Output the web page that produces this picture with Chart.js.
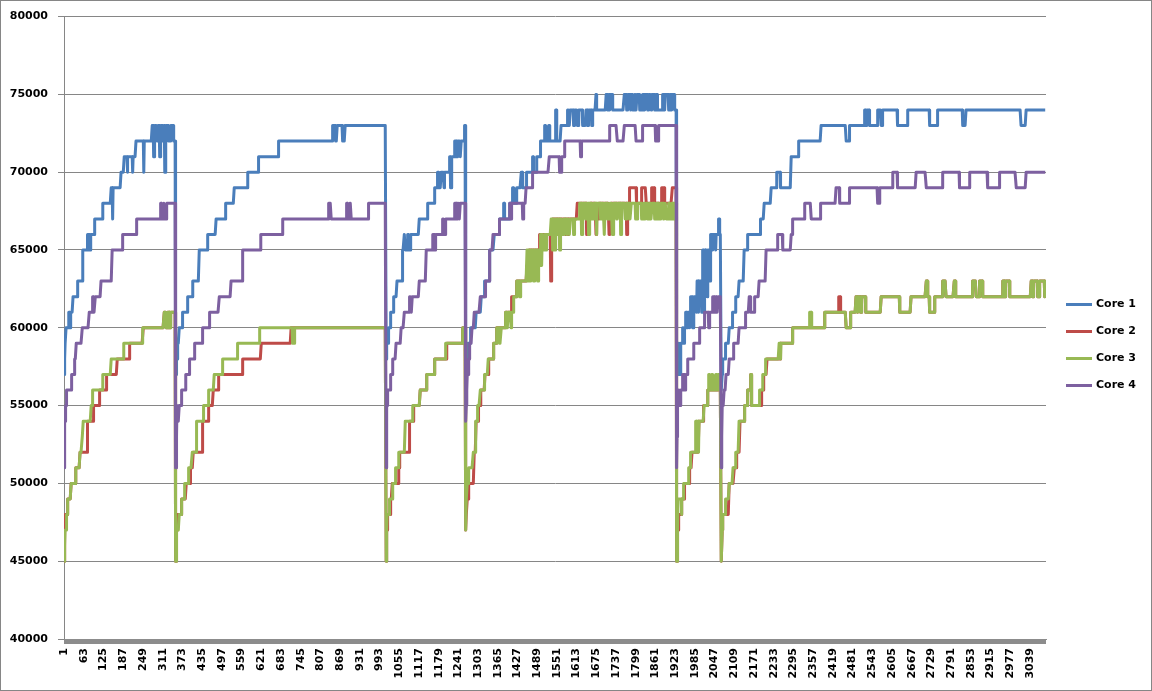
<!DOCTYPE html>
<html>
<head>
<meta charset="utf-8">
<title>Core 1-4</title>
<script src="https://cdn.jsdelivr.net/npm/chart.js@4.4.1/dist/chart.umd.min.js"></script>
<style>
  html, body { margin: 0; padding: 0; background: #fff; }
  #wrap { width: 1152px; height: 691px; position: relative; }
</style>
</head>
<body>
<div id="wrap"><canvas id="coreChart"></canvas></div>
<script>
// series names and colours (Excel 2007 palette)
const seriesNames = ['Core 1', 'Core 2', 'Core 3', 'Core 4'];
const seriesColors = ['#4a7ebb', '#be4b48', '#98b954', '#7d60a0'];

// category axis: one label every 62 samples
const tickLabels = [1, 63, 125, 187, 249, 311, 373, 435, 497, 559, 621, 683, 745, 807, 869, 931, 993,
  1055, 1117, 1179, 1241, 1303, 1365, 1427, 1489, 1551, 1613, 1675, 1737, 1799, 1861, 1923, 1985,
  2047, 2109, 2171, 2233, 2295, 2357, 2419, 2481, 2543, 2605, 2667, 2729, 2791, 2853, 2915, 2977, 3039];
const sampleCount = 3089;

// value runs: [value in thousands, last sample of the run]
const core1Runs = [
  [57,2],[58,3],[59,6],[60,15],[61,18],[60,20],[61,28],[62,42],[63,58],[65,74],[66,81],[65,84],[66,95],[67,121],[68,148],[69,152],[67,154],[69,179],[70,189],[71,199],[70,200],[71,215],[70,217],[71,226],[72,250],[70,252],[72,277],[73,281],[71,285],[73,293],[72,296],[73,301],[71,304],[73,309],[72,312],[73,316],[70,319],[73,328],[72,336],[73,345],[72,351],
  [57,353],[58,358],[59,362],[60,373],[61,389],[62,404],[63,425],[65,451],[66,478],[67,509],[68,535],[69,577],[70,612],[71,675],[72,845],[73,855],[72,859],[73,875],[72,884],[73,1013],
  [58,1015],[59,1020],[60,1026],[61,1036],[62,1047],[63,1064],[65,1070],[66,1073],[65,1081],[66,1084],[65,1091],[66,1117],[67,1144],[68,1165],[69,1174],[70,1177],[69,1186],[70,1195],[69,1197],[70,1212],[71,1216],[69,1218],[71,1229],[72,1234],[71,1237],[72,1246],[71,1249],[72,1259],[73,1263],
  [57,1267],[58,1270],[59,1278],[60,1296],[61,1312],[62,1322],[63,1338],[65,1353],[66,1369],[67,1382],[68,1385],[67,1401],[68,1410],[69,1413],[68,1423],[69,1438],[70,1442],[69,1454],[70,1473],[71,1476],[70,1486],[71,1498],[72,1511],[73,1515],[72,1523],[73,1528],[72,1547],[74,1550],[72,1563],[73,1583],[74,1589],[73,1592],[74,1602],[73,1605],[74,1614],[73,1618],[74,1630],[73,1642],[74,1646],[73,1649],[74,1659],[73,1662],[74,1673],[75,1676],[74,1705],[75,1709],[74,1712],[75,1715],[74,1718],[75,1726],[74,1762],[75,1769],[74,1773],[75,1781],[74,1784],[75,1788],[74,1794],[75,1799],[74,1802],[75,1810],[74,1819],[75,1825],[74,1828],[75,1835],[74,1838],[75,1846],[74,1849],[75,1857],[74,1860],[75,1866],[74,1882],[75,1888],[74,1891],[75,1901],[74,1904],[75,1910],[74,1913],[75,1921],[74,1927],
  [57,1932],[59,1935],[57,1939],[59,1945],[60,1950],[59,1951],[60,1954],[61,1959],[60,1961],[61,1967],[60,1968],[61,1971],[62,1976],[60,1980],[62,1989],[61,1991],[63,1995],[61,1997],[63,2006],[61,2008],[65,2012],[61,2014],[65,2017],[62,2019],[65,2023],[62,2025],[65,2031],[63,2033],[66,2039],[65,2041],[66,2049],[65,2051],[66,2058],[67,2062],[66,2067],
  [56,2070],[57,2072],[58,2080],[59,2092],[60,2102],[61,2113],[62,2123],[63,2139],[65,2149],[66,2191],[67,2202],[68,2224],[69,2241],[70,2253],[69,2287],[71,2310],[72,2381],[73,2460],[72,2470],[73,2517],[74,2522],[73,2525],[74,2533],[73,2559],[74,2570],[73,2575],[74,2622],[73,2654],[74,2722],[73,2748],[74,2827],[73,2837],[74,3010],[73,3026],[74,3089]
];

const core2Runs = [
  [45,1],[47,3],[48,10],[49,22],[50,37],[51,50],[52,74],[54,92],[55,111],[56,134],[57,167],[58,205],[59,249],[60,315],[61,321],[60,326],[61,331],[60,336],[61,351],
  [45,353],[47,356],[48,370],[49,384],[50,397],[51,406],[52,435],[54,454],[55,469],[56,487],[57,561],[58,620],[59,714],[60,1013],
  [45,1014],[47,1017],[48,1026],[49,1032],[50,1053],[51,1055],[52,1086],[54,1100],[55,1120],[56,1140],[57,1165],[58,1204],[59,1254],[60,1263],
  [47,1265],[48,1268],[49,1272],[50,1290],[52,1296],[54,1303],[55,1311],[56,1324],[57,1336],[58,1352],[59,1361],[60,1388],[61,1407],[62,1423],[63,1456],[64,1463],[65,1495],[66,1530],[63,1533],[66,1536],[67,1577],[66,1580],[67,1586],[66,1589],[67,1614],[68,1644],[66,1648],[67,1652],[68,1673],[66,1676],[67,1681],[68,1714],[66,1717],[67,1721],[68,1770],[66,1773],[68,1778],[69,1800],[68,1816],[69,1831],[68,1847],[69,1857],[68,1879],[69,1888],[68,1913],[69,1927],
  [45,1929],[47,1932],[48,1943],[49,1951],[50,1968],[51,1975],[52,1997],[54,2011],[55,2025],[56,2067],
  [45,2070],[47,2072],[48,2092],[50,2108],[51,2115],[52,2126],[54,2141],[55,2151],[56,2159],[57,2162],[55,2193],[56,2201],[57,2211],[58,2253],[59,2291],[60,2392],[61,2437],[62,2442],[61,2460],[60,2473],[61,2491],[62,2495],[61,2498],[62,2505],[61,2508],[62,2522],[61,2570],[62,2628],[61,2664],[62,2712],[63,2717],[62,2723],[61,2738],[62,2764],[63,2774],[62,2800],[63,2805],[62,2858],[63,2869],[62,2879],[63,2890],[62,2953],[63,2958],[62,2961],[63,2974],[62,3042],[63,3046],[62,3049],[63,3063],[62,3068],[63,3084],[62,3089]
];

const core3Runs = [
  [45,2],[46,3],[47,8],[48,10],[49,22],[50,37],[51,50],[52,57],[53,60],[54,85],[55,90],[56,121],[57,148],[58,188],[59,248],[60,315],[61,321],[60,326],[61,331],[60,336],[61,351],
  [45,353],[47,362],[48,369],[49,380],[50,391],[51,403],[52,417],[54,438],[55,454],[56,472],[57,499],[58,546],[59,614],[60,718],[59,724],[60,1013],
  [45,1014],[47,1016],[48,1023],[49,1033],[50,1042],[51,1052],[52,1073],[54,1096],[55,1120],[56,1140],[57,1165],[58,1201],[59,1254],[60,1263],
  [47,1265],[49,1268],[50,1272],[51,1287],[52,1294],[54,1301],[55,1309],[56,1322],[57,1334],[58,1350],[59,1360],[60,1369],[59,1375],[60,1388],[61,1391],[60,1397],[61,1406],[60,1408],[61,1413],[62,1423],[63,1432],[62,1435],[63,1456],[65,1459],[63,1462],[65,1465],[63,1468],[65,1471],[64,1474],[65,1477],[63,1480],[65,1483],[64,1486],[65,1489],[63,1492],[65,1495],[64,1498],[66,1501],[64,1504],[66,1507],[65,1511],[66,1514],[65,1517],[66,1532],[67,1536],[65,1539],[67,1544],[65,1547],[67,1552],[66,1555],[67,1558],[65,1561],[67,1567],[66,1572],[67,1580],[66,1585],[67,1589],[66,1592],[67,1602],[66,1605],[67,1621],[68,1627],[66,1630],[68,1640],[67,1643],[68,1649],[66,1652],[68,1659],[67,1665],[68,1674],[66,1677],[68,1687],[67,1690],[68,1699],[66,1702],[68,1709],[67,1715],[68,1724],[66,1728],[68,1737],[67,1743],[68,1750],[66,1753],[68,1765],[67,1769],[68,1778],[67,1784],[68,1797],[67,1803],[68,1816],[67,1822],[68,1825],[67,1831],[68,1835],[67,1841],[68,1844],[67,1850],[68,1857],[67,1863],[68,1869],[67,1876],[68,1885],[67,1891],[68,1894],[67,1901],[68,1904],[67,1910],[68,1917],[67,1921],[68,1927],
  [45,1929],[47,1931],[49,1942],[48,1943],[49,1948],[50,1964],[51,1971],[52,1986],[54,1989],[52,1991],[54,1995],[52,1997],[54,2013],[55,2024],[56,2028],[57,2030],[56,2036],[57,2039],[56,2049],[57,2052],[56,2057],[57,2061],[56,2067],
  [45,2070],[47,2072],[48,2081],[49,2092],[50,2104],[51,2113],[52,2123],[54,2140],[55,2149],[56,2159],[57,2162],[55,2187],[56,2198],[57,2207],[58,2249],[59,2253],[58,2255],[59,2291],[60,2344],[61,2351],[60,2392],[61,2460],[60,2473],[61,2491],[62,2495],[61,2498],[62,2505],[61,2508],[62,2522],[61,2570],[62,2628],[61,2664],[62,2712],[63,2717],[62,2723],[61,2738],[62,2764],[63,2774],[62,2800],[63,2805],[62,2858],[63,2869],[62,2879],[63,2890],[62,2953],[63,2958],[62,2961],[63,2974],[62,3042],[63,3046],[62,3049],[63,3063],[62,3068],[63,3084],[62,3089]
];

const core4Runs = [
  [51,1],[53,2],[54,4],[55,8],[56,23],[57,32],[58,38],[59,57],[60,79],[61,90],[62,93],[61,98],[62,116],[63,151],[65,184],[66,228],[67,304],[68,307],[67,312],[68,315],[67,322],[68,351],
  [51,354],[53,355],[55,359],[54,362],[55,369],[56,383],[57,395],[58,410],[59,436],[60,457],[61,488],[62,525],[63,562],[65,619],[66,687],[67,832],[68,840],[67,889],[68,892],[67,899],[68,903],[67,958],[68,1013],
  [51,1014],[53,1015],[55,1018],[56,1026],[57,1033],[58,1044],[59,1060],[60,1070],[61,1086],[62,1092],[61,1095],[62,1117],[63,1139],[65,1159],[66,1166],[65,1169],[66,1191],[67,1195],[66,1199],[67,1228],[68,1234],[67,1237],[68,1243],[67,1246],[68,1263],
  [54,1265],[55,1267],[56,1268],[57,1272],[58,1276],[59,1283],[60,1290],[61,1309],[62,1325],[63,1339],[65,1349],[66,1369],[67,1401],[68,1404],[67,1408],[68,1442],[67,1445],[68,1453],[69,1474],[70,1526],[71,1559],[70,1564],[71,1575],[72,1624],[71,1627],[72,1715],[73,1740],[72,1762],[73,1799],[72,1820],[73,1860],[72,1870],[73,1927],
  [51,1928],[53,1929],[55,1932],[56,1935],[55,1939],[56,1945],[57,1951],[56,1954],[57,1961],[58,1980],[59,1998],[60,2014],[61,2027],[60,2030],[61,2039],[62,2046],[61,2049],[62,2053],[61,2057],[62,2067],
  [51,2069],[53,2070],[55,2076],[56,2082],[57,2092],[58,2107],[59,2123],[60,2144],[61,2155],[62,2160],[61,2171],[62,2186],[63,2208],[65,2244],[66,2260],[65,2287],[66,2291],[67,2329],[68,2350],[67,2379],[68,2428],[69,2439],[68,2470],[69,2558],[68,2565],[69,2606],[70,2622],[69,2680],[70,2712],[69,2764],[70,2816],[69,2848],[70,2906],[69,2942],[70,2995],[69,3026],[70,3089]
];

const allRuns = [core1Runs, core2Runs, core3Runs, core4Runs];

// turn runs into one point per sample
function expand(runs) {
  const pts = [];
  for (const [v, last] of runs) {
    while (pts.length < last && pts.length < sampleCount) {
      pts.push({ x: pts.length + 1, y: v * 1000 });
    }
  }
  return pts;
}

const axisFont = { family: 'DejaVu Sans', size: 11, weight: 'bold' };

// tick band under the x axis, legend on the right, outer frame
const excelLook = {
  id: 'excelLook',
  afterDraw(chart) {
    const { ctx, chartArea: a } = chart;
    ctx.save();
    ctx.fillStyle = '#8c8c8c';
    ctx.fillRect(a.left, a.bottom, a.right - a.left, 5);

    ctx.font = 'bold 11px "DejaVu Sans"';
    ctx.textBaseline = 'middle';
    const midY = chart.height / 2 - 1;
    chart.data.datasets.forEach((ds, i) => {
      const y = Math.round(midY + (i - 1.5) * 27) + 0.5;
      ctx.strokeStyle = ds.borderColor;
      ctx.lineWidth = 3;
      ctx.beginPath();
      ctx.moveTo(a.right + 20, y);
      ctx.lineTo(a.right + 46, y);
      ctx.stroke();
      ctx.fillStyle = '#000';
      ctx.fillText(ds.label, a.right + 50, y);
    });

    ctx.strokeStyle = '#868686';
    ctx.lineWidth = 1;
    ctx.strokeRect(0.5, 0.5, chart.width - 1, chart.height - 1);
    ctx.restore();
  }
};

document.addEventListener('DOMContentLoaded', function() {
  const ctx = document.getElementById('coreChart').getContext('2d');
  new Chart(ctx, {
    type: 'line',
    data: {
      datasets: seriesNames.map((name, i) => ({
        label: name,
        data: expand(allRuns[i]),
        borderColor: seriesColors[i],
        backgroundColor: seriesColors[i],
        borderWidth: 3,
        borderJoinStyle: 'round',
        pointRadius: 0,
        tension: 0,
        order: 4 - i
      }))
    },
    options: {
      responsive: true,
      maintainAspectRatio: false,
      animation: false,
      parsing: false,
      normalized: true,
      layout: { padding: { top: 16, right: 106, bottom: 0, left: 0 } },
      plugins: {
        legend: { display: false },
        tooltip: { enabled: false }
      },
      scales: {
        x: {
          type: 'linear',
          min: 0.5,
          max: sampleCount + 0.5,
          afterBuildTicks: scale => { scale.ticks = tickLabels.map(v => ({ value: v })); },
          afterFit: scale => { scale.height = 52; },
          grid: { display: true, drawOnChartArea: false, drawTicks: true, tickLength: 5, color: '#8c8c8c' },
          border: { display: true, color: '#8c8c8c' },
          ticks: {
            autoSkip: false,
            minRotation: 90,
            maxRotation: 90,
            padding: 4,
            color: '#000',
            font: axisFont,
            callback: v => String(v)
          }
        },
        y: {
          min: 40000,
          max: 80000,
          afterFit: scale => { scale.width = 64; },
          grid: { color: '#868686', tickLength: 6 },
          border: { color: '#868686' },
          ticks: {
            stepSize: 5000,
            padding: 10,
            color: '#000',
            font: axisFont,
            callback: v => String(v)
          }
        }
      }
    },
    plugins: [excelLook]
  });
});
</script>
</body>
</html>
